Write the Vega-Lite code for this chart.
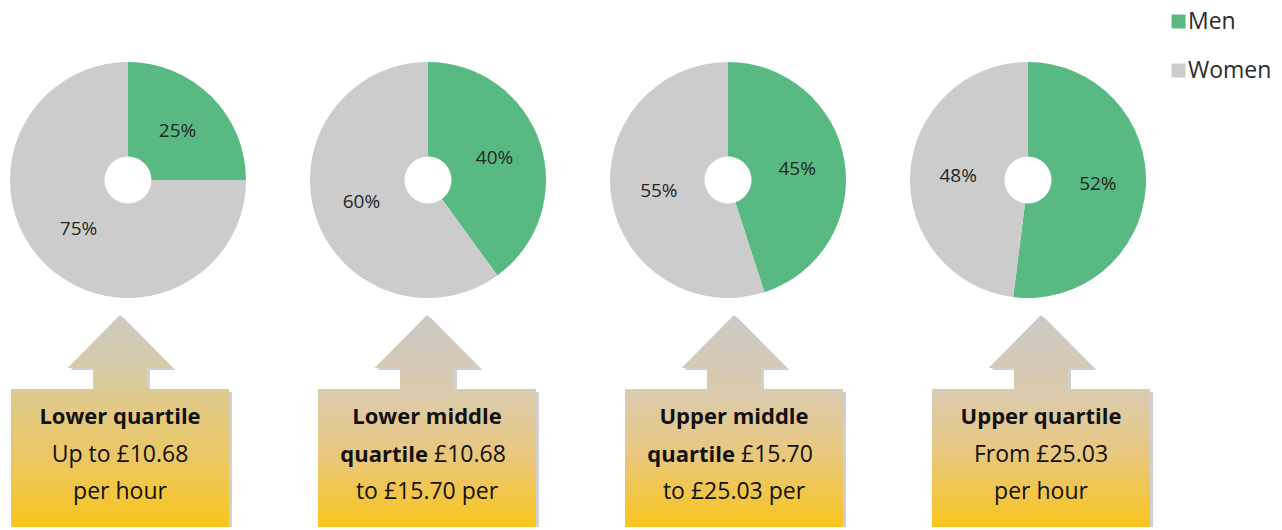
{
  "$schema": "https://vega.github.io/schema/vega-lite/v6.json",
  "padding": {"left": 0, "right": 0, "top": 10, "bottom": 3},
  "autosize": {"type": "pad"},
  "bounds": "flush",
  "spacing": 0,
  "config": {"view": {"stroke": null}, "font": "Open Sans"},
  "datasets": {
    "shares": [
      {"quartile": "Lower quartile", "sex": "Men", "share": 0.25},
      {"quartile": "Lower quartile", "sex": "Women", "share": 0.75},
      {"quartile": "Lower middle quartile", "sex": "Men", "share": 0.40},
      {"quartile": "Lower middle quartile", "sex": "Women", "share": 0.60},
      {"quartile": "Upper middle quartile", "sex": "Men", "share": 0.45},
      {"quartile": "Upper middle quartile", "sex": "Women", "share": 0.55},
      {"quartile": "Upper quartile", "sex": "Men", "share": 0.52},
      {"quartile": "Upper quartile", "sex": "Women", "share": 0.48}
    ],
    "quartiles": [
      {"quartile": "Lower quartile"},
      {"quartile": "Lower middle quartile"},
      {"quartile": "Upper middle quartile"},
      {"quartile": "Upper quartile"}
    ],
    "lines": [
      {"quartile": "Lower quartile", "line": 1, "part": "heading", "text": "Lower quartile"},
      {"quartile": "Lower quartile", "line": 2, "part": "body", "text": "Up to £10.68"},
      {"quartile": "Lower quartile", "line": 3, "part": "body", "text": "per hour"},
      {"quartile": "Lower middle quartile", "line": 1, "part": "heading", "text": "Lower middle"},
      {"quartile": "Lower middle quartile", "line": 2, "part": "lead", "text": "quartile"},
      {"quartile": "Lower middle quartile", "line": 2, "part": "tail", "text": "£10.68"},
      {"quartile": "Lower middle quartile", "line": 3, "part": "body", "text": "to £15.70 per"},
      {"quartile": "Upper middle quartile", "line": 1, "part": "heading", "text": "Upper middle"},
      {"quartile": "Upper middle quartile", "line": 2, "part": "lead", "text": "quartile"},
      {"quartile": "Upper middle quartile", "line": 2, "part": "tail", "text": "£15.70"},
      {"quartile": "Upper middle quartile", "line": 3, "part": "body", "text": "to £25.03 per"},
      {"quartile": "Upper quartile", "line": 1, "part": "heading", "text": "Upper quartile"},
      {"quartile": "Upper quartile", "line": 2, "part": "body", "text": "From £25.03"},
      {"quartile": "Upper quartile", "line": 3, "part": "body", "text": "per hour"}
    ]
  },
  "vconcat": [
    {
      "width": 1282,
      "height": 270,
      "data": {"name": "shares"},
      "transform": [
        {"stack": "share", "groupby": ["quartile"], "sort": [{"field": "sex", "order": "ascending"}], "as": ["s0", "s1"]},
        {"calculate": "(datum.s0 + datum.s1) / 2", "as": "smid"}
      ],
      "encoding": {
        "x": {"field": "quartile", "type": "nominal", "axis": null,
              "scale": {"type": "point", "padding": 0, "domain": ["Lower quartile", "Lower middle quartile", "Upper middle quartile", "Upper quartile"], "range": [128, 1028]}}
      },
      "layer": [
        {
          "mark": {"type": "arc", "innerRadius": 23.5, "outerRadius": 118, "strokeWidth": 0},
          "encoding": {
            "theta": {"field": "s0", "type": "quantitative", "stack": null, "scale": {"domain": [0, 1]}},
            "theta2": {"field": "s1"},
            "color": {"field": "sex", "type": "nominal",
                      "scale": {"domain": ["Men", "Women"], "range": ["#58b982", "#cccccc"]},
                      "legend": {"title": null, "orient": "none", "legendX": 1167, "legendY": -35, "padding": 0,
                                 "symbolType": "square", "symbolSize": 196, "symbolStrokeWidth": 0,
                                 "labelFontSize": 23, "labelColor": "#2b2b2b", "labelFont": "Open Sans",
                                 "rowPadding": 25, "labelOffset": -2}}
          }
        },
        {
          "mark": {"type": "text", "radius": 70, "fontSize": 19, "color": "#262626", "align": "center", "baseline": "middle"},
          "encoding": {
            "theta": {"field": "smid", "type": "quantitative", "stack": null},
            "text": {"field": "share", "type": "quantitative", "format": ".0%"}
          }
        }
      ]
    },
    {
      "width": 1282,
      "height": 74,
      "data": {"name": "quartiles"},
      "encoding": {
        "x": {"field": "quartile", "type": "nominal", "axis": null,
              "scale": {"type": "point", "padding": 0, "domain": ["Lower quartile", "Lower middle quartile", "Upper middle quartile", "Upper quartile"], "range": [120, 1041]}}
      },
      "layer": [
        {
          "mark": {"type": "point", "filled": true, "size": 12100, "fill": "#777777", "opacity": 0.35, "strokeWidth": 0, "xOffset": 3, "yOffset": 2,
                   "shape": "M0,-0.6727 L0.9545,0.2909 L0.4909,0.2909 L0.4909,0.76 L-0.4909,0.76 L-0.4909,0.2909 L-0.9545,0.2909 Z"}
        },
        {
          "transform": [{"filter": "datum.quartile !== 'Lower quartile'"}],
          "mark": {"type": "point", "filled": true, "size": 12100, "opacity": 1, "strokeWidth": 0,
                   "fill": {"gradient": "linear", "x1": 0, "y1": 0, "x2": 0, "y2": 1,
                            "stops": [{"offset": 0, "color": "#cbc9c6"}, {"offset": 0.7, "color": "#d6cab4"}, {"offset": 1, "color": "#dccaa8"}]},
                   "shape": "M0,-0.6727 L0.9545,0.2909 L0.4909,0.2909 L0.4909,0.76 L-0.4909,0.76 L-0.4909,0.2909 L-0.9545,0.2909 Z"}
        },
        {
          "transform": [{"filter": "datum.quartile === 'Lower quartile'"}],
          "mark": {"type": "point", "filled": true, "size": 12100, "opacity": 1, "strokeWidth": 0,
                   "fill": {"gradient": "linear", "x1": 0, "y1": 0, "x2": 0, "y2": 1,
                            "stops": [{"offset": 0, "color": "#ccc9c0"}, {"offset": 0.7, "color": "#d8cba6"}, {"offset": 1, "color": "#dccb98"}]},
                   "shape": "M0,-0.6727 L0.9545,0.2909 L0.4909,0.2909 L0.4909,0.76 L-0.4909,0.76 L-0.4909,0.2909 L-0.9545,0.2909 Z"}
        }
      ]
    },
    {
      "width": 1282,
      "height": 138,
      "encoding": {
        "x": {"field": "quartile", "type": "nominal", "axis": null,
              "scale": {"type": "band", "domain": ["Lower quartile", "Lower middle quartile", "Upper middle quartile", "Upper quartile"], "range": [11, 1150], "paddingInner": 0.29, "paddingOuter": 0}}
      },
      "layer": [
        {
          "data": {"name": "quartiles"},
          "mark": {"type": "rect", "fill": "#888888", "opacity": 0.4, "xOffset": 3, "yOffset": 3}
        },
        {
          "data": {"name": "quartiles"},
          "transform": [{"filter": "datum.quartile !== 'Lower quartile'"}],
          "mark": {"type": "rect", "opacity": 1,
                   "fill": {"gradient": "linear", "x1": 0, "y1": 0, "x2": 0, "y2": 1,
                            "stops": [{"offset": 0, "color": "#dacbb2"}, {"offset": 0.5, "color": "#eac77a"}, {"offset": 1, "color": "#f8c51c"}]}}
        },
        {
          "data": {"name": "quartiles"},
          "transform": [{"filter": "datum.quartile === 'Lower quartile'"}],
          "mark": {"type": "rect", "opacity": 1,
                   "fill": {"gradient": "linear", "x1": 0, "y1": 0, "x2": 0, "y2": 1,
                            "stops": [{"offset": 0, "color": "#ddca90"}, {"offset": 0.5, "color": "#ecc764"}, {"offset": 1, "color": "#f8c51c"}]}}
        },
        {
          "data": {"name": "lines"},
          "transform": [{"filter": "datum.part === 'heading'"}],
          "mark": {"type": "text", "fontWeight": "bold", "fontSize": 22, "color": "#111111", "align": "center", "baseline": "middle"},
          "encoding": {
            "y": {"field": "line", "type": "ordinal", "axis": null, "scale": {"type": "point", "padding": 0, "domain": [1, 2, 3], "range": [28, 103]}},
            "text": {"field": "text"}
          }
        },
        {
          "data": {"name": "lines"},
          "transform": [{"filter": "datum.part === 'body'"}],
          "mark": {"type": "text", "fontSize": 23, "color": "#111111", "align": "center", "baseline": "middle"},
          "encoding": {
            "y": {"field": "line", "type": "ordinal", "axis": null, "scale": {"type": "point", "padding": 0, "domain": [1, 2, 3], "range": [28, 103]}},
            "text": {"field": "text"}
          }
        },
        {
          "data": {"name": "lines"},
          "transform": [{"filter": "datum.part === 'lead'"}],
          "mark": {"type": "text", "fontWeight": "bold", "fontSize": 22, "color": "#111111", "align": "right", "baseline": "middle", "dx": 1},
          "encoding": {
            "y": {"field": "line", "type": "ordinal", "axis": null, "scale": {"type": "point", "padding": 0, "domain": [1, 2, 3], "range": [28, 103]}},
            "text": {"field": "text"}
          }
        },
        {
          "data": {"name": "lines"},
          "transform": [{"filter": "datum.part === 'tail'"}],
          "mark": {"type": "text", "fontSize": 23, "color": "#111111", "align": "left", "baseline": "middle", "dx": 7},
          "encoding": {
            "y": {"field": "line", "type": "ordinal", "axis": null, "scale": {"type": "point", "padding": 0, "domain": [1, 2, 3], "range": [28, 103]}},
            "text": {"field": "text"}
          }
        }
      ],
      "resolve": {"scale": {"y": "independent"}}
    }
  ]
}
